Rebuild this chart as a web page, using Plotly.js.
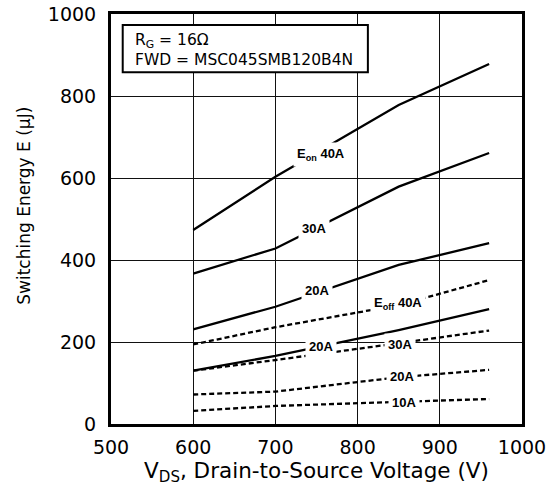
<!DOCTYPE html>
<html>
<head>
<meta charset="utf-8">
<script src="https://cdn.plot.ly/plotly-3.0.1.min.js"></script>
<style>
  html, body { margin: 0; padding: 0; background: #fff; }
  #chart { width: 556px; height: 489px; }
</style>
</head>
<body>
<div id="chart"></div>
<script>
// Drain-to-source voltage sample points (V)
const vds = [600, 700, 850, 960];

// Turn-on switching energy (µJ)
const eon40 = [473, 603, 778, 878];
const eon30 = [367, 428, 579, 661];
const eon20 = [231, 286, 388, 441];
const eon10 = [130, 166, 229, 280];

// Turn-off switching energy (µJ)
const eoff40 = [194, 236, 290, 351];
const eoff30 = [130, 156, 197, 228];
const eoff20 = [72, 79, 114, 132];
const eoff10 = [32, 44, 54, 61];

// Curve labels: text and anchor point (V, µJ)
const labelText = ['E<sub>on</sub> 40A', '30A', '20A', 'E<sub>off</sub> 40A', '20A', '30A', '20A', '10A'];
const labelV    = [756, 747, 751, 849, 756, 852, 854, 856];
const labelE    = [658, 477, 325, 294, 190, 195, 115, 52];

const xTicks = [500, 600, 700, 800, 900, 1000];
const yTicks = [0, 200, 400, 600, 800, 1000];

const solid = {color: '#000', width: 2.3};
const dashed = {color: '#000', width: 2.3, dash: '5px,3px'};

function curve(y, line) {
  return {x: vds, y: y, type: 'scatter', mode: 'lines', line: line,
          hoverinfo: 'skip', showlegend: false};
}

const traces = [
  curve(eon40, solid), curve(eon30, solid), curve(eon20, solid), curve(eon10, solid),
  curve(eoff40, dashed), curve(eoff30, dashed), curve(eoff20, dashed), curve(eoff10, dashed)
];

// White-backed labels break the curves where they sit
const curveLabels = labelText.map((t, i) => ({
  x: labelV[i], y: labelE[i], xref: 'x', yref: 'y',
  text: '<b>' + t + '</b>', showarrow: false,
  font: {family: 'Liberation Sans, Arial, sans-serif', size: 13, color: '#000'},
  bgcolor: '#fff', borderpad: 3
}));

const uiFont = 'DejaVu Sans, Verdana, sans-serif';

// Test-condition box
const conditionsText = {
  xref: 'paper', yref: 'paper', x: 0.0525, y: 0.911, xanchor: 'left', yanchor: 'middle',
  text: 'R<sub>G</sub> = 16Ω<br>FWD = MSC045SMB120B4N', align: 'left', showarrow: false,
  font: {family: uiFont, size: 15.5, color: '#000'}
};
const conditionsBox = {
  type: 'rect', xref: 'paper', yref: 'paper', layer: 'above',
  x0: 0.0285, x1: 0.625, y0: 0.858, y1: 0.973,
  fillcolor: '#fff', line: {color: '#000', width: 2}
};

// Vertical axis title, set slightly above the plot's mid-height
const yTitle = {
  xref: 'paper', yref: 'paper', x: -0.212, y: 0.532, xanchor: 'center', yanchor: 'middle',
  text: 'Switching Energy E (µJ)', textangle: -90, showarrow: false,
  font: {family: uiFont, size: 17, color: '#000'}
};

const tickFont = {family: uiFont, size: 19, color: '#000'};

const layout = {
  width: 556, height: 489,
  margin: {l: 111, r: 34, t: 14, b: 65},
  paper_bgcolor: '#fff', plot_bgcolor: '#fff',
  xaxis: {
    range: [500, 1000], tickvals: xTicks, ticktext: xTicks.map(String),
    showgrid: true, gridcolor: '#111', gridwidth: 1,
    showline: true, linecolor: '#000', linewidth: 3, mirror: true,
    ticks: 'outside', ticklen: 4, tickcolor: 'rgba(0,0,0,0)',
    tickfont: tickFont, zeroline: false,
    title: {text: 'V<sub>DS</sub>, Drain-to-Source Voltage (V)',
            font: {family: uiFont, size: 21.5, color: '#000'}, standoff: 2}
  },
  yaxis: {
    range: [0, 1000], tickvals: yTicks, ticktext: yTicks.map(String),
    showgrid: true, gridcolor: '#111', gridwidth: 1,
    showline: true, linecolor: '#000', linewidth: 3, mirror: true,
    ticks: 'outside', ticklen: 8, tickcolor: 'rgba(0,0,0,0)',
    tickfont: tickFont, zeroline: false
  },
  shapes: [conditionsBox],
  annotations: curveLabels.concat([conditionsText, yTitle])
};

Plotly.newPlot('chart', traces, layout, {displayModeBar: false, staticPlot: true});
</script>
</body>
</html>
